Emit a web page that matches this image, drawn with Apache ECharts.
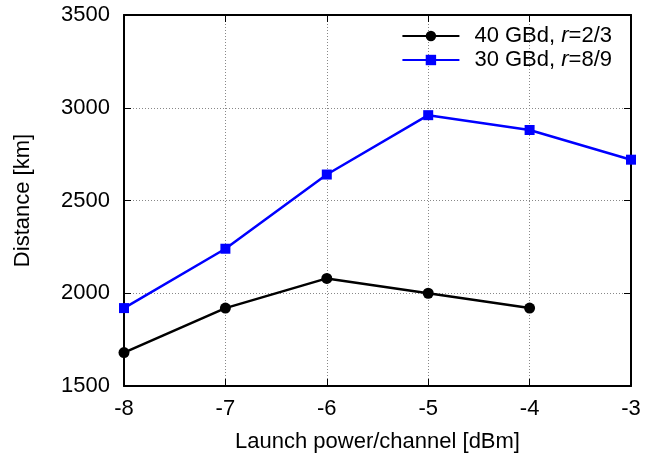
<!DOCTYPE html>
<html>
<head>
<meta charset="utf-8">
<script src="https://cdn.jsdelivr.net/npm/echarts@6/dist/echarts.min.js"></script>
<style>
  html, body { margin: 0; padding: 0; background: #fff; }
  #chart { width: 652px; height: 453px; }
</style>
</head>
<body>
<div id="chart"></div>
<script>
// launch power per channel [dBm]
var power = [-8, -7, -6, -5, -4, -3];
// distance [km]
var dist40 = [1680, 1920, 2080, 2000, 1920];
var dist30 = [1920, 2240, 2640, 2960, 2880, 2720];

function pairs(xs, ys) {
  return ys.map(function (y, i) { return [xs[i], y]; });
}

var myChart = echarts.init(document.getElementById('chart'));

var font = 'Liberation Sans, Arial, sans-serif';
var fs = 22;
var gridLine = { show: true, lineStyle: { color: '#888', type: [1, 2], width: 1 } };

var option = {
  animation: false,
  grid: { left: 124, right: 21, top: 15, bottom: 67, outerBoundsMode: 'none' },
  legend: {
    right: 35,
    top: 20,
    orient: 'vertical',
    itemWidth: 57,
    itemHeight: 13,
    itemGap: 2,
    textStyle: {
      fontFamily: font, fontSize: fs, color: '#000', lineHeight: 22,
      padding: [0, 0, 0, 10],
      rich: { i: { fontFamily: font, fontSize: fs, fontStyle: 'italic', color: '#000', lineHeight: 22 } }
    },
    formatter: function (name) {
      return name === 'a' ? '40 GBd, {i|r}=2/3' : '30 GBd, {i|r}=8/9';
    },
    data: ['a', 'b']
  },
  xAxis: [{
    type: 'value', min: -8, max: -3, interval: 1,
    name: 'Launch power/channel [dBm]', nameLocation: 'middle', nameGap: 45,
    nameTextStyle: { fontFamily: font, fontSize: fs, color: '#000' },
    axisLine: { lineStyle: { color: '#000', width: 2 } },
    axisTick: { inside: true, length: 7, lineStyle: { color: '#000', width: 1 } },
    axisLabel: { fontFamily: font, fontSize: fs, color: '#000', margin: 12 },
    splitLine: gridLine
  }, {
    type: 'value', position: 'top', min: -8, max: -3, interval: 1,
    axisLine: { show: true, lineStyle: { color: '#000', width: 2 } },
    axisTick: { inside: true, length: 7, lineStyle: { color: '#000', width: 1 } },
    axisLabel: { show: false }, splitLine: { show: false }
  }],
  yAxis: [{
    type: 'value', min: 1500, max: 3500, interval: 500,
    name: 'Distance [km]', nameLocation: 'middle', nameGap: 90,
    nameTextStyle: { fontFamily: font, fontSize: fs, color: '#000' },
    axisLine: { show: true, lineStyle: { color: '#000', width: 2 } },
    axisTick: { show: true, inside: true, length: 7, lineStyle: { color: '#000', width: 1 } },
    axisLabel: {
      fontFamily: font, fontSize: fs, color: '#000', margin: 14,
      formatter: function (v) { return String(v); }
    },
    splitLine: gridLine
  }, {
    type: 'value', position: 'right', min: 1500, max: 3500, interval: 500,
    axisLine: { show: true, lineStyle: { color: '#000', width: 2 } },
    axisTick: { show: true, inside: true, length: 7, lineStyle: { color: '#000', width: 1 } },
    axisLabel: { show: false }, splitLine: { show: false }
  }],
  series: [{
    name: 'a', type: 'line', data: pairs(power, dist40),
    symbol: 'circle', symbolSize: 11,
    itemStyle: { color: '#000' }, lineStyle: { color: '#000', width: 2.5 }
  }, {
    name: 'b', type: 'line', data: pairs(power, dist30),
    symbol: 'rect', symbolSize: 10,
    itemStyle: { color: '#0000ff' }, lineStyle: { color: '#0000ff', width: 2.5 }
  }]
};

myChart.setOption(option);
</script>
</body>
</html>
